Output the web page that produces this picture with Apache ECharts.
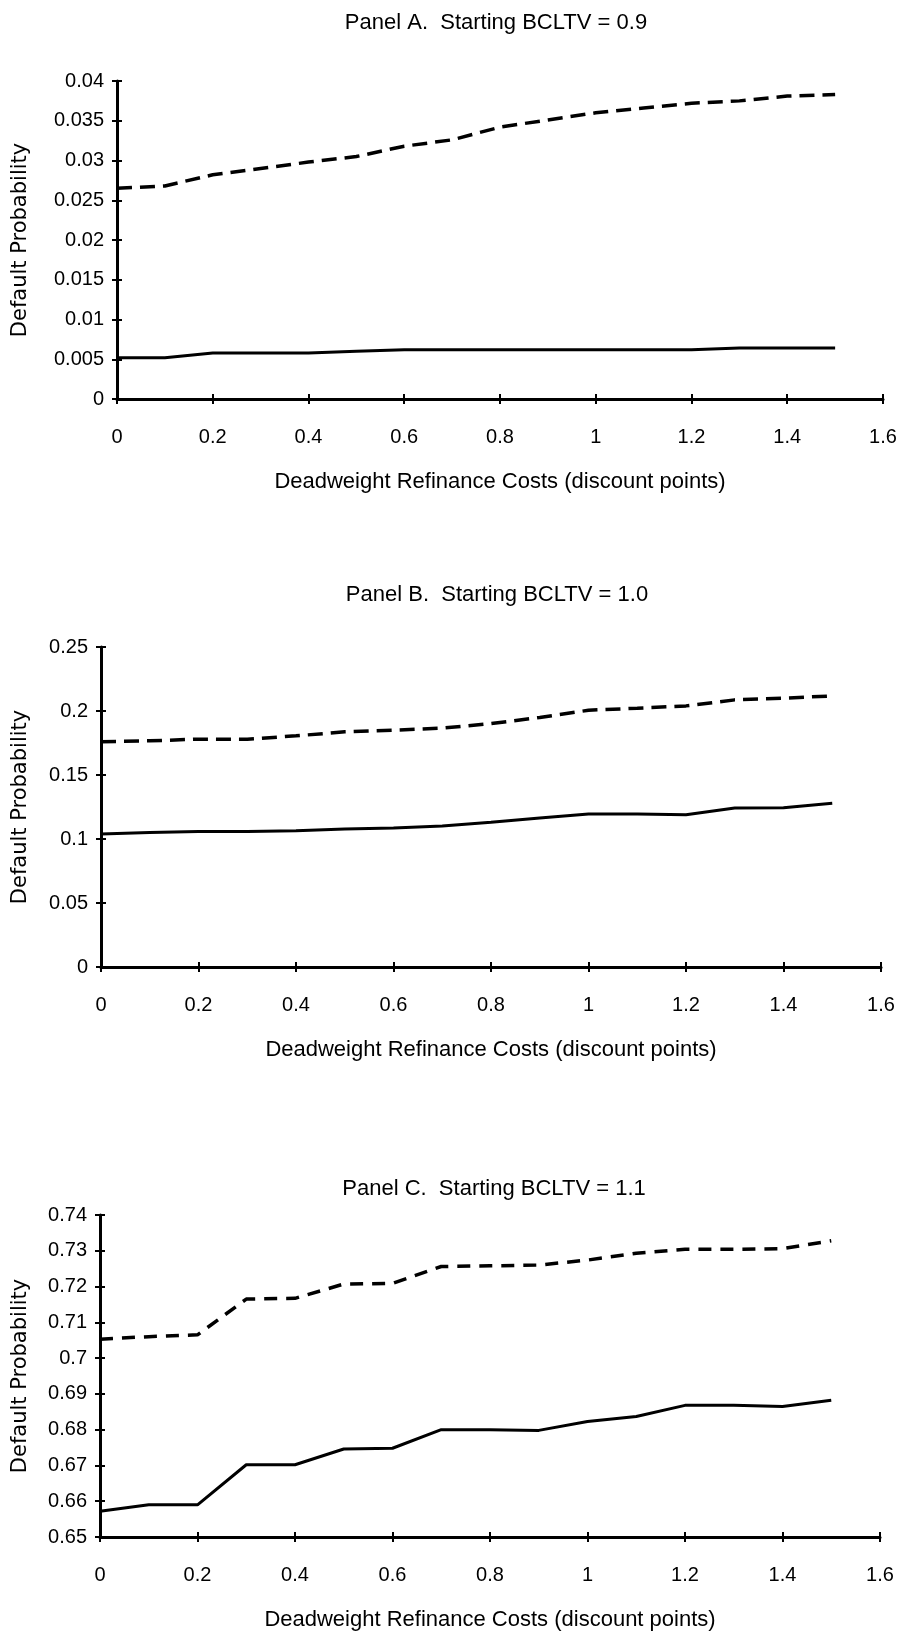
<!DOCTYPE html>
<html>
<head>
<meta charset="utf-8">
<script src="https://cdn.jsdelivr.net/npm/echarts@6/dist/echarts.min.js"></script>
<style>
html,body{margin:0;padding:0;background:#fff;}
#chart{width:904px;height:1637px;}
</style>
</head>
<body>
<div id="chart"></div>
<script>
// ---- data ----
const xValues = [0, 0.1, 0.2, 0.3, 0.4, 0.5, 0.6, 0.7, 0.8, 0.9, 1.0, 1.1, 1.2, 1.3, 1.4, 1.5];

const panelTitles = ['Panel A.  Starting BCLTV = 0.9', 'Panel B.  Starting BCLTV = 1.0', 'Panel C.  Starting BCLTV = 1.1'];
const xAxisName = 'Deadweight Refinance Costs (discount points)';
const yAxisName = 'Default Probability';

const aDashed = [0.0265, 0.0268, 0.0282, 0.0290, 0.0298, 0.0305, 0.0318, 0.0326, 0.0342, 0.0351, 0.0360, 0.0366, 0.0372, 0.0375, 0.0381, 0.0383];
const aSolid  = [0.0052, 0.0052, 0.0058, 0.0058, 0.0058, 0.0060, 0.0062, 0.0062, 0.0062, 0.0062, 0.0062, 0.0062, 0.0062, 0.0064, 0.0064, 0.0064];

const bDashed = [0.176, 0.1767, 0.178, 0.178, 0.1806, 0.1837, 0.185, 0.1866, 0.1902, 0.1949, 0.2006, 0.2022, 0.204, 0.2087, 0.210, 0.2118];
const bSolid  = [0.104, 0.105, 0.1058, 0.1058, 0.1065, 0.1079, 0.1086, 0.1102, 0.113, 0.1164, 0.1195, 0.1195, 0.119, 0.1242, 0.1245, 0.1279];

const cDashed = [0.7053, 0.7060, 0.7065, 0.7165, 0.7167, 0.7207, 0.7209, 0.7256, 0.7258, 0.7260, 0.7274, 0.7293, 0.7304, 0.7304, 0.7306, 0.7328];
const cSolid  = [0.6572, 0.6590, 0.6590, 0.6702, 0.6702, 0.6746, 0.6748, 0.6800, 0.6800, 0.6798, 0.6823, 0.6837, 0.6868, 0.6868, 0.6865, 0.6882];

const yRanges = [
  {min: 0, max: 0.04, interval: 0.005},
  {min: 0, max: 0.25, interval: 0.05},
  {min: 0.65, max: 0.74, interval: 0.01}
];
const xRange = {min: 0, max: 1.6, interval: 0.2};

// ---- layout ----
const grids = [
  {left: 117, top: 81, width: 766, height: 318},
  {left: 101, top: 647, width: 780, height: 320},
  {left: 100, top: 1215, width: 780, height: 322}
];
const titlePos = [{x: 491, y: 7}, {x: 492, y: 579}, {x: 489, y: 1173}];
const yNameGap = [86, 70, 69];

const FONT = '"Liberation Sans", Arial, Helvetica, sans-serif';
const black = '#000';

const pair = arr => xValues.map((x, i) => [x, arr[i]]);

const option = {
  backgroundColor: '#fff',
  animation: false,
  title: panelTitles.map((t, i) => ({
    text: t,
    left: titlePos[i].x,
    top: titlePos[i].y,
    textAlign: 'center',
    textStyle: {fontFamily: FONT, fontSize: 22, fontWeight: 'normal', color: black}
  })),
  grid: grids.map(g => Object.assign({containLabel: false}, g)),
  xAxis: [],
  yAxis: [],
  series: []
};

grids.forEach((g, i) => {
  option.xAxis.push({
    type: 'value', gridIndex: i, min: xRange.min, max: xRange.max, interval: xRange.interval,
    name: xAxisName, nameLocation: 'middle', nameGap: 72,
    nameTextStyle: {fontFamily: FONT, fontSize: 22, color: black},
    axisLine: {show: true, onZero: false, lineStyle: {color: black, width: 3}},
    axisTick: {show: true, length: 5, lineStyle: {color: black, width: 2}},
    axisLabel: {margin: 28, fontFamily: FONT, fontSize: 20, color: black},
    splitLine: {show: false}
  });
  option.xAxis.push({
    type: 'value', gridIndex: i, min: xRange.min, max: xRange.max, interval: xRange.interval,
    axisLine: {show: false, onZero: false},
    axisTick: {show: true, inside: true, length: 5, lineStyle: {color: black, width: 2}},
    axisLabel: {show: false}, splitLine: {show: false}, position: 'bottom'
  });
  option.yAxis.push({
    type: 'value', gridIndex: i, min: yRanges[i].min, max: yRanges[i].max, interval: yRanges[i].interval,
    name: yAxisName, nameLocation: 'middle', nameGap: yNameGap[i], nameRotate: 90,
    nameTextStyle: {fontFamily: '"DejaVu Sans", sans-serif', fontSize: 21, color: black},
    axisLine: {show: true, onZero: false, lineStyle: {color: black, width: 3}},
    axisTick: {show: true, length: 5, lineStyle: {color: black, width: 2}},
    axisLabel: {margin: 13, fontFamily: FONT, fontSize: 20, color: black},
    splitLine: {show: false}
  });
  option.yAxis.push({
    type: 'value', gridIndex: i, min: yRanges[i].min, max: yRanges[i].max, interval: yRanges[i].interval,
    position: 'left',
    axisLine: {show: false, onZero: false},
    axisTick: {show: true, inside: true, length: 5, lineStyle: {color: black, width: 2}},
    axisLabel: {show: false}, splitLine: {show: false}
  });
});

const seriesData = [[aDashed, aSolid], [bDashed, bSolid], [cDashed, cSolid]];
seriesData.forEach((pr, i) => {
  option.series.push({
    type: 'line', xAxisIndex: i * 2, yAxisIndex: i * 2, data: pair(pr[0]),
    showSymbol: false, symbol: 'none',
    lineStyle: {color: black, width: 3.5, type: i === 2 ? [13, 9] : [15, 8]}
  });
  option.series.push({
    type: 'line', xAxisIndex: i * 2, yAxisIndex: i * 2, data: pair(pr[1]),
    showSymbol: false, symbol: 'none',
    lineStyle: {color: black, width: 3, type: 'solid'}
  });
});

const chart = echarts.init(document.getElementById('chart'), null, {renderer: 'canvas'});
chart.setOption(option);
</script>
</body>
</html>
